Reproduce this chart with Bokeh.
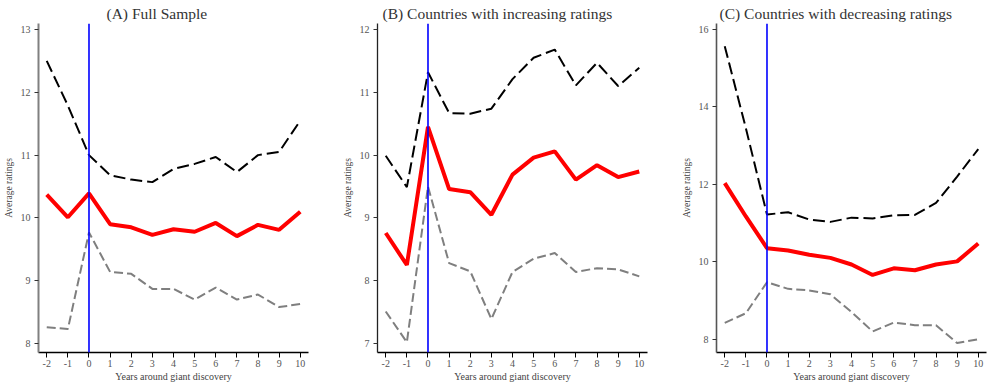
from bokeh.plotting import figure
from bokeh.layouts import row
from bokeh.models import Span, FixedTicker, Range1d
from bokeh.embed import file_html
from bokeh.resources import INLINE

years = [-2, -1, 0, 1, 2, 3, 4, 5, 6, 7, 8, 9, 10]
x_tick_labels = ["-2", "-1", "0", "1", "2", "3", "4", "5", "6", "7", "8", "9", "10"]

titles = ["(A) Full Sample",
          "(B) Countries with increasing ratings",
          "(C) Countries with decreasing ratings"]

A_upper = [12.5, 11.79, 11.0, 10.68, 10.61, 10.57, 10.78, 10.86, 10.97, 10.73, 11.0, 11.05, 11.55]
A_mean = [10.37, 10.01, 10.39, 9.9, 9.85, 9.73, 9.82, 9.78, 9.92, 9.71, 9.89, 9.81, 10.1]
A_lower = [8.26, 8.23, 9.77, 9.14, 9.11, 8.87, 8.87, 8.7, 8.89, 8.7, 8.78, 8.58, 8.63]

B_upper = [9.99, 9.49, 11.32, 10.67, 10.66, 10.74, 11.21, 11.55, 11.68, 11.11, 11.47, 11.1, 11.39]
B_mean = [8.76, 8.25, 10.45, 9.46, 9.41, 9.05, 9.69, 9.96, 10.06, 9.61, 9.84, 9.65, 9.74]
B_lower = [7.51, 7.02, 9.5, 8.28, 8.15, 7.39, 8.14, 8.35, 8.44, 8.14, 8.2, 8.18, 8.07]

C_upper = [15.57, 13.45, 11.22, 11.28, 11.09, 11.03, 11.14, 11.12, 11.2, 11.21, 11.52, 12.2, 12.91]
C_mean = [12.03, 11.17, 10.35, 10.29, 10.18, 10.1, 9.93, 9.66, 9.83, 9.78, 9.93, 10.01, 10.47]
C_lower = [8.42, 8.67, 9.47, 9.3, 9.26, 9.16, 8.7, 8.2, 8.43, 8.36, 8.36, 7.9, 8.0]

A_yticks = [8, 9, 10, 11, 12, 13]
B_yticks = [7, 8, 9, 10, 11, 12]
C_yticks = [8, 10, 12, 14, 16]

A_yrange = (7.857, 13.096)
B_yrange = (6.857, 12.096)
C_yrange = (7.656, 16.155)

FONT = "Liberation Serif"


def panel(title, title_offset, upper, mean, lower, yticks, yrange, left_border, right_border,
          yaxis_color, yaxis_width):
    p = figure(frame_width=270, frame_height=329, output_backend="svg",
               toolbar_location=None, tools="",
               x_range=Range1d(-2.39, 10.39), y_range=Range1d(*yrange),
               min_border_left=left_border, min_border_right=right_border,
               min_border_top=20, min_border_bottom=26)
    p.outline_line_color = None
    p.xgrid.visible = False
    p.ygrid.visible = False
    p.background_fill_color = "white"

    p.title.text = title
    p.title.align = "left"
    p.title.offset = title_offset
    p.title.standoff = 4
    p.title.text_font = FONT
    p.title.text_font_size = "15.5px"
    p.title.text_font_style = "normal"
    p.title.text_color = "#333333"

    p.line(years, upper, line_color="black", line_width=2, line_dash="12 5")
    p.line(years, lower, line_color="#7f7f7f", line_width=2, line_dash="9 4")
    p.line(years, mean, line_color="#ff0000", line_width=4)

    p.add_layout(Span(location=0, dimension="height", line_color="#0000ff", line_width=1.6))

    xa = p.xaxis[0]
    xa.ticker = FixedTicker(ticks=years)
    xa.major_label_overrides = {y: s for y, s in zip(years, x_tick_labels)}
    xa.minor_tick_line_color = None
    xa.major_tick_in = 0
    xa.major_tick_out = 5
    xa.axis_line_color = "black"
    xa.axis_line_width = 1.5
    xa.major_tick_line_color = "black"
    xa.major_label_text_font = FONT
    xa.major_label_text_font_size = "10px"
    xa.major_label_text_color = "#555555"
    xa.major_label_standoff = 2
    xa.axis_label = "Years around giant discovery"
    xa.axis_label_text_font = FONT
    xa.axis_label_text_font_size = "10px"
    xa.axis_label_text_font_style = "normal"
    xa.axis_label_text_color = "#444444"
    xa.axis_label_standoff = 1

    ya = p.yaxis[0]
    ya.ticker = FixedTicker(ticks=yticks)
    ya.minor_tick_line_color = None
    ya.major_tick_in = 0
    ya.major_tick_out = 4
    ya.axis_line_color = yaxis_color
    ya.axis_line_width = yaxis_width
    ya.major_tick_line_color = "#333333"
    ya.major_label_text_font = FONT
    ya.major_label_text_font_size = "10px"
    ya.major_label_text_color = "#555555"
    ya.major_label_standoff = 4
    ya.major_label_orientation = "horizontal"
    ya.axis_label = "Average ratings"
    ya.axis_label_text_font = FONT
    ya.axis_label_text_font_size = "9.5px"
    ya.axis_label_text_font_style = "normal"
    ya.axis_label_text_color = "#444444"
    ya.axis_label_standoff = 4
    return p


pa = panel(titles[0], 68, A_upper, A_mean, A_lower, A_yticks, A_yrange, 36, 31, "#808080", 2)
pb = panel(titles[1], 5, B_upper, B_mean, B_lower, B_yticks, B_yrange, 33, 31, "#222222", 1.3)
pc = panel(titles[2], 3, C_upper, C_mean, C_lower, C_yticks, C_yrange, 33, 5, "#555555", 1.6)

layout = row(pa, pb, pc, spacing=0)

open("out.html", "w").write(file_html(layout, INLINE))
